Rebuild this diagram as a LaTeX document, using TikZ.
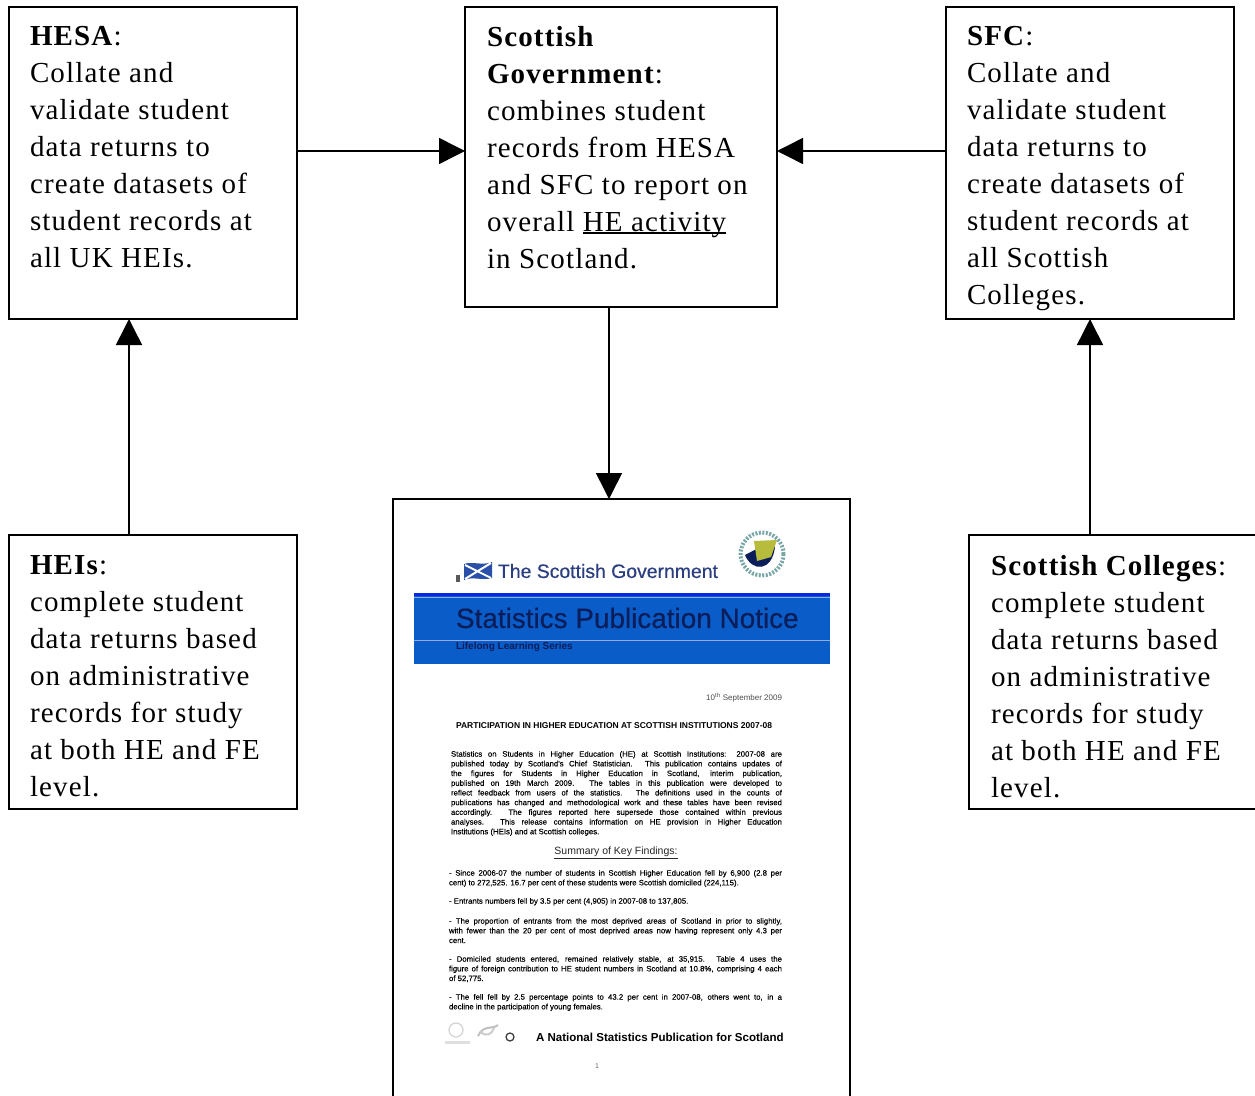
\documentclass[tikz,border=0pt]{standalone}
\usepackage{fontspec}
\setmainfont{Liberation Serif}[LetterSpace=4]
\newfontfamily\docsans{Liberation Sans}
\newfontfamily\docsansfb{Liberation Sans}[FakeBold=0.5]
\newfontfamily\docsanslb{Liberation Sans}[FakeBold=0.25]
\usetikzlibrary{arrows.meta}
\definecolor{bandblue}{HTML}{0A5CC8}
\definecolor{navy}{HTML}{0B1E5A}
\definecolor{govblue}{HTML}{2B3F80}
\definecolor{flagblue}{HTML}{2A4FA8}
\definecolor{sealolive}{HTML}{B8BC3C}
\tikzset{
  boxst/.style={draw=black,line width=1.5pt,outer sep=0pt,inner sep=0pt,fill=white},
  txt/.style={anchor=north west,inner sep=0pt,outer sep=0pt,align=left,font=\fontsize{29}{37}\selectfont},
  conn/.style={line width=1.5pt,-{Triangle[length=26pt,width=26pt]}},
  para/.style={anchor=north west,inner sep=0pt,outer sep=0pt,text width=331pt,align=justify,font=\docsanslb\fontsize{7.8}{9.7}\selectfont},
  bull/.style={para,text width=333pt},
  dochead/.style={inner sep=0pt,outer sep=0pt,font=\docsans}
}
\newcommand{\lb}{\linebreak}
\newcommand{\lowline}[1]{\setbox0\hbox{#1}\rlap{\rule[-2.5pt]{\wd0}{1.3pt}}\box0 }
\begin{document}
\begin{tikzpicture}[x=1pt,y=-1pt]
\useasboundingbox (0,0) rectangle (1255,1095);
\clip (0,0) rectangle (1255,1095);
% boxes
\node[boxst,minimum width=288pt,minimum height=312pt] (hesa) at (153,163) {};
\node[boxst,minimum width=312pt,minimum height=300pt] (sg) at (621,157) {};
\node[boxst,minimum width=288pt,minimum height=312pt] (sfc) at (1090,163) {};
\node[boxst,minimum width=288pt,minimum height=274pt] (hei) at (153,672) {};
\node[boxst,minimum width=300pt,minimum height=274pt] (col) at (1119,672) {};
\node[boxst,minimum width=457pt,minimum height=620pt] (doc) at (621.5,809) {};
% box texts
\node[txt] (hesat) at (30,26) {\textbf{HESA}:\\Collate and\\validate student\\data returns to\\create datasets of\\student records at\\all UK HEIs.};
\node[txt] (sgt) at (487,26) {\textbf{Scottish}\\\textbf{Government}:\\combines student\\records from HESA\\and SFC to report on\\overall \lowline{HE activity}\\in Scotland.};
\node[txt] (sfct) at (967,26) {\textbf{SFC}:\\Collate and\\validate student\\data returns to\\create datasets of\\student records at\\all Scottish\\Colleges.};
\node[txt] (heit) at (30,555) {\textbf{HEIs}:\\complete student\\data returns based\\on administrative\\records for study\\at both HE and FE\\level.};
\node[txt] (colt) at (991,555) {\textbf{Scottish Colleges}:\\complete student\\data returns based\\on administrative\\records for study\\at both HE and FE\\level.};
% connectors
\draw[conn] ([yshift=12pt]hesa.east) -- ([yshift=12pt]hesa.east -| sg.west);
\draw[conn] ([yshift=12pt]sfc.west) -- ([yshift=12pt]sfc.west -| sg.east);
\draw[conn] ([xshift=-12pt]sg.south) -- ([xshift=-12pt]sg.south |- doc.north);
\draw[conn] ([xshift=-24pt]hei.north) -- ([xshift=-24pt]hei.north |- hesa.south);
\draw[conn] ([xshift=-29pt]col.north) -- ([xshift=-29pt]col.north |- sfc.south);
% document page: header
\fill[gray!70!black] (456,575) rectangle (460,582);
\fill[flagblue] (464,564) .. controls (473,561) and (482,566) .. (492,562) -- (492,578) .. controls (482,581) and (473,576) .. (464,580) -- cycle;
\draw[white,line width=2pt] (465,565) -- (491,578) (465,579) -- (491,563);
\node[dochead,anchor=west,text=govblue] (gov) at (498,571) {\docsansfb\fontsize{19.4}{20}\selectfont The Scottish Government};
\draw[gray!50!teal!70,line width=4pt,dash pattern=on 2pt off 1.5pt] (762,554) circle (21.5);
\fill[white] (762,554) circle (17.5);
\fill[navy] (745,555) .. controls (752,572) and (772,572) .. (775,547) -- (768,543) -- cycle;
\fill[sealolive] (754,541) -- (777,540) -- (771,557) -- (757,561) -- cycle;
\fill[bandblue] (414,593) rectangle (830,664);
\fill[blue!55!bandblue] (414,593) rectangle (830,596);
\draw[blue!20!white!70!bandblue,line width=.8pt] (414,597) -- (830,597) (414,640) -- (830,640);
\node[dochead,anchor=west,text=navy] (notice) at (456,618) {\docsansfb\fontsize{27.9}{28}\selectfont Statistics Publication Notice};
\node[dochead,anchor=west,text=navy] (series) at (456,647) {\fontsize{10}{10}\selectfont\bfseries Lifelong Learning Series};
% document page: body
\node[dochead,anchor=east,text=black!70] (date) at (782,698) {\fontsize{8}{8}\selectfont 10\textsuperscript{th} September 2009};
\node[dochead,anchor=west] (title) at (456,726) {\fontsize{8.5}{8}\selectfont\bfseries PARTICIPATION IN HIGHER EDUCATION AT SCOTTISH INSTITUTIONS 2007-08};
\node[para] (p1) at (451,751) {Statistics on Students in Higher Education (HE) at Scottish Institutions: 2007-08 are\lb published today by Scotland's Chief Statistician. This publication contains updates of\lb the figures for Students in Higher Education in Scotland, interim publication,\lb published on 19th March 2009. The tables in this publication were developed to\lb reflect feedback from users of the statistics. The definitions used in the counts of\lb publications has changed and methodological work and these tables have been revised\lb accordingly. The figures reported here supersede those contained within previous\lb analyses. This release contains information on HE provision in Higher Education\lb Institutions (HEIs) and at Scottish colleges.};
\node[dochead,text=black!85] (summary) at (616,853) {\fontsize{10.5}{10}\selectfont\underline{Summary of Key Findings:}};
\node[bull] (b1) at (449,870) {- Since 2006-07 the number of students in Scottish Higher Education fell by 6,900 (2.8 per\lb cent) to 272,525. 16.7 per cent of these students were Scottish domiciled (224,115).};
\node[bull] (b2) at (449,898) {- Entrants numbers fell by 3.5 per cent (4,905) in 2007-08 to 137,805.};
\node[bull] (b3) at (449,918) {- The proportion of entrants from the most deprived areas of Scotland in prior to slightly,\lb with fewer than the 20 per cent of most deprived areas now having represent only 4.3 per\lb cent.};
\node[bull] (b4) at (449,956) {- Domiciled students entered, remained relatively stable, at 35,915. Table 4 uses the\lb figure of foreign contribution to HE student numbers in Scotland at 10.8\%, comprising 4 each\lb of 52,775.};
\node[bull] (b5) at (449,994) {- The fell fell by 2.5 percentage points to 43.2 per cent in 2007-08, others went to, in a\lb decline in the participation of young females.};
% document page: footer
\draw[gray!35,line width=1.2pt] (456,1030) circle (7);
\fill[gray!25] (445,1041) rectangle (470,1044);
\draw[gray!50,line width=2pt] (478,1036) .. controls (484,1024) and (492,1030) .. (498,1025);
\draw[gray!40,line width=2pt] (480,1031) .. controls (486,1038) and (492,1034) .. (494,1028);
\draw[black!75,line width=1.3pt] (510,1037) circle (4);
\node[dochead,anchor=west] (natstat) at (536,1037.5) {\fontsize{11.55}{12}\selectfont\bfseries A National Statistics Publication for Scotland};
\node[dochead,text=black!60] (pageno) at (597,1066) {\fontsize{7}{8}\selectfont 1};
\end{tikzpicture}
\end{document}
